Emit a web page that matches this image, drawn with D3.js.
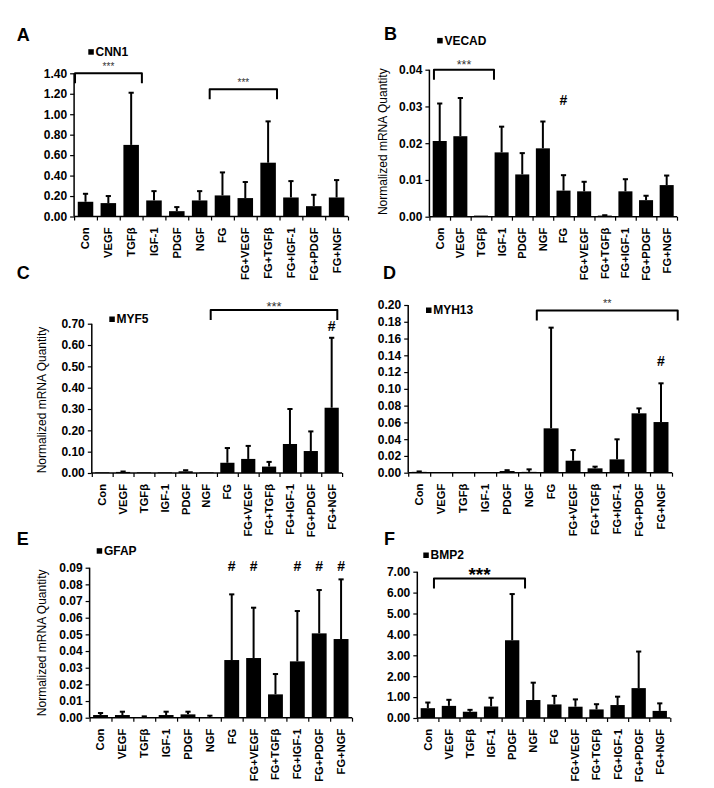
<!DOCTYPE html>
<html><head><meta charset="utf-8">
<script src="https://cdn.jsdelivr.net/npm/d3@7"></script>
<style>body{margin:0;background:#fff;} svg{display:block;font-family:"Liberation Sans",Arial,sans-serif;}</style>
</head><body><svg id="c" width="714" height="788"></svg>
<script>
// ---------- DATA ----------
const categories = ["Con","VEGF","TGFβ","IGF-1","PDGF","NGF","FG","FG+VEGF","FG+TGFβ","FG+IGF-1","FG+PDGF","FG+NGF"];

const cnn1Mean = [0.144,0.131,0.70,0.157,0.052,0.157,0.206,0.18,0.526,0.186,0.101,0.186];
const cnn1Sd   = [0.078,0.069,0.51,0.091,0.040,0.091,0.225,0.157,0.404,0.160,0.111,0.170];
const cnn1Ticks = [0,0.2,0.4,0.6,0.8,1.0,1.2,1.4];

const vecadMean = [0.0206,0.0219,0.0003,0.0175,0.0115,0.0186,0.0071,0.0069,0.0003,0.0069,0.0045,0.0086];
const vecadSd   = [0.0102,0.0104,0,0.0070,0.0058,0.0073,0.0042,0.0026,0.0001,0.0033,0.0012,0.0026];
const vecadTicks = [0,0.01,0.02,0.03,0.04];

const myf5Mean = [0.003,0.005,0.003,0.003,0.008,0.003,0.048,0.066,0.030,0.136,0.103,0.306];
const myf5Sd   = [0,0.002,0,0,0.005,0,0.069,0.061,0.022,0.164,0.092,0.328];
const myf5Ticks = [0,0.1,0.2,0.3,0.4,0.5,0.6,0.7];

const myh13Mean = [0.001,0,0,0,0.002,0.001,0.0529,0.0143,0.0052,0.0159,0.0708,0.0604];
const myh13Sd   = [0.0005,0,0,0,0.001,0.003,0.1201,0.0127,0.002,0.0239,0.0059,0.0462];
const myh13Ticks = [0,0.02,0.04,0.06,0.08,0.10,0.12,0.14,0.16,0.18,0.20];

const gfapMean = [0.0016,0.0016,0.0004,0.0016,0.002,0.0004,0.0346,0.0358,0.014,0.0338,0.0506,0.0472];
const gfapSd   = [0.0012,0.002,0.0004,0.002,0.0016,0.0008,0.0394,0.0302,0.0122,0.0302,0.026,0.0358];
const gfapTicks = [0,0.01,0.02,0.03,0.04,0.05,0.06,0.07,0.08,0.09];

const bmp2Mean = [0.47,0.58,0.30,0.55,3.72,0.86,0.65,0.54,0.41,0.62,1.43,0.34];
const bmp2Sd   = [0.27,0.29,0.09,0.42,2.21,0.83,0.41,0.35,0.25,0.40,1.75,0.36];
const bmp2Ticks = [0,1,2,3,4,5,6,7];

// significance annotations (category span, level in data units, label)
const cnn1Brackets = [{from:"Con",to:"TGFβ",level:1.40,label:"***"},{from:"FG",to:"FG+TGFβ",level:1.244,label:"***"}];
const vecadBrackets = [{from:"Con",to:"TGFβ",level:0.04,label:"***"}];
const myf5Brackets = [{from:"NGF",to:"FG+NGF",level:0.764,label:"***"}];
const myh13Brackets = [{from:"NGF",to:"FG+NGF",level:0.1935,label:"**"}];
const gfapBrackets = [];
const bmp2Brackets = [{from:"Con",to:"PDGF",level:6.68,label:"***"}];

const vecadHashes = [{cat:"FG",level:0.0305}];
const myf5Hashes = [{cat:"FG+NGF",level:0.666}];
const myh13Hashes = [{cat:"FG+NGF",level:0.127}];
const gfapHashes = ["FG","FG+VEGF","FG+IGF-1","FG+PDGF","FG+NGF"].map(c=>({cat:c,level:0.0883}));

// ---------- LAYOUT / STYLE ----------
const panels = [
 {letter:"A",gene:"CNN1",mean:cnn1Mean,sd:cnn1Sd,ticks:cnn1Ticks,brackets:cnn1Brackets,hashes:[],
  L:{x0:74.1,x1:348,yTop:73.3,yBot:216.5,lx:16.7,ly:40.7,gx:88.3,gy:56,title:null,
     bOff:[[0.04,0.97],[-0.06,0.89]],starFs:10,starDy:-3}},
 {letter:"B",gene:"VECAD",mean:vecadMean,sd:vecadSd,ticks:vecadTicks,brackets:vecadBrackets,hashes:vecadHashes,
  L:{x0:429.4,x1:677,yTop:69.7,yBot:216.7,lx:384,ly:40,gx:437.2,gy:44.7,title:[382.5,141.7],
     bOff:[[0.22,1.13]],starFs:12.5,starDy:-1}},
 {letter:"C",gene:"MYF5",mean:myf5Mean,sd:myf5Sd,ticks:myf5Ticks,brackets:myf5Brackets,hashes:myf5Hashes,
  L:{x0:91.8,x1:342.1,yTop:323.7,yBot:473,lx:16.7,ly:279,gx:109.3,gy:323.3,title:[41.7,400],
     bOff:[[0.70,0.77]],starFs:13,starDy:1}},
 {letter:"D",gene:"MYH13",mean:myh13Mean,sd:myh13Sd,ticks:myh13Ticks,brackets:myh13Brackets,hashes:myh13Hashes,
  L:{x0:408.2,x1:672,yTop:305,yBot:472.7,lx:383,ly:279.3,gx:426,gy:314.3,title:null,
     bOff:[[0.85,1.26]],starFs:11,starDy:-3}},
 {letter:"E",gene:"GFAP",mean:gfapMean,sd:gfapSd,ticks:gfapTicks,brackets:gfapBrackets,hashes:gfapHashes,
  L:{x0:89.6,x1:352,yTop:567.7,yBot:717.7,lx:16.7,ly:545,gx:96.7,gy:555,title:[41.3,642.8],
     bOff:[],starFs:10,starDy:-3}},
 {letter:"F",gene:"BMP2",mean:bmp2Mean,sd:bmp2Sd,ticks:bmp2Ticks,brackets:bmp2Brackets,hashes:[],
  L:{x0:417.3,x1:670.3,yTop:571.7,yBot:718,lx:384,ly:545,gx:423.3,gy:559.3,title:null,
     bOff:[[0.79,1.11]],starFs:19,starDy:3,starBold:true}}
];

const svg = d3.select("#c");

panels.forEach(p => {
  const L = p.L;
  const g = svg.append("g");
  const x = d3.scaleBand().domain(categories).range([L.x0, L.x1]).paddingInner(0.32).paddingOuter(0.16);
  const step = x.step();
  const slot = c => L.x0 + categories.indexOf(c) * step;
  const yMax = d3.max(p.ticks);
  const y = d3.scaleLinear().domain([0, yMax]).range([L.yBot, L.yTop]);

  // bars
  g.selectAll("rect.bar").data(categories).join("rect")
    .attr("x", c => x(c)).attr("width", x.bandwidth())
    .attr("y", (c,i) => y(p.mean[i])).attr("height", (c,i) => L.yBot - y(p.mean[i]))
    .attr("fill", "#000");

  // error bars (upper only)
  categories.forEach((c,i) => {
    if (!(p.sd[i] > 0)) return;
    const cx = x(c) + x.bandwidth()/2;
    const y1 = y(p.mean[i]), y2 = y(p.mean[i] + p.sd[i]);
    g.append("line").attr("x1",cx).attr("x2",cx).attr("y1",y1).attr("y2",y2)
      .attr("stroke","#000").attr("stroke-width",2);
    g.append("line").attr("x1",cx-2.6).attr("x2",cx+2.6).attr("y1",y2).attr("y2",y2)
      .attr("stroke","#000").attr("stroke-width",2);
  });

  // y axis
  const ya = g.append("g").attr("transform",`translate(${L.x0},0)`)
    .call(d3.axisLeft(y).tickValues(p.ticks).tickFormat(d3.format(".2f")).tickSize(4).tickPadding(3));
  ya.select(".domain").attr("stroke","#000").attr("stroke-width",1.5).attr("d",`M0,${L.yTop}V${L.yBot}`);
  ya.selectAll(".tick line").attr("stroke","#000").attr("stroke-width",1.2);
  ya.selectAll(".tick text").attr("font-size",12).attr("font-weight","bold").attr("fill","#000");

  // x axis with ticks at slot boundaries
  const xb = d3.scaleLinear().domain([0, categories.length]).range([L.x0, L.x1]);
  const xa = g.append("g").attr("transform",`translate(0,${L.yBot})`)
    .call(d3.axisBottom(xb).tickValues(d3.range(categories.length+1)).tickFormat("").tickSize(4));
  xa.select(".domain").attr("stroke","#000").attr("stroke-width",1.5).attr("d",`M${L.x0},0H${L.x1}`);
  xa.selectAll(".tick line").attr("stroke","#000").attr("stroke-width",1.2);

  // category labels
  g.selectAll("text.cat").data(categories).join("text")
    .attr("transform", c => `translate(${x(c)+x.bandwidth()/2},${L.yBot+11}) rotate(-90)`)
    .attr("text-anchor","end").attr("dy","0.35em")
    .attr("font-size",11.2).attr("font-weight","bold").attr("fill","#000")
    .text(c => c);

  // panel letter
  g.append("text").attr("x",L.lx).attr("y",L.ly).attr("font-size",18).attr("font-weight","bold").text(p.letter);

  // legend
  g.append("rect").attr("x",L.gx).attr("y",L.gy-6.8).attr("width",5.5).attr("height",5.5).attr("fill","#000");
  g.append("text").attr("x",L.gx+7.2).attr("y",L.gy).attr("font-size",12).attr("font-weight","bold").text(p.gene);

  // y title
  if (L.title) {
    g.append("text").attr("transform",`translate(${L.title[0]},${L.title[1]}) rotate(-90)`)
      .attr("text-anchor","middle").attr("dy","0.35em").attr("font-size",12).text("Normalized mRNA Quantity");
  }

  // brackets
  p.brackets.forEach((b,k) => {
    const off = L.bOff[k];
    const xa1 = slot(b.from) + off[0]*step, xa2 = slot(b.to) + off[1]*step;
    const yy = y(b.level);
    g.append("path").attr("d",`M${xa1},${yy+10}V${yy}H${xa2}V${yy+10}`)
      .attr("fill","none").attr("stroke","#000").attr("stroke-width",2).attr("stroke-linejoin","round");
    g.append("text").attr("x",(xa1+xa2)/2).attr("y",yy+L.starDy).attr("text-anchor","middle")
      .attr("font-size",L.starFs).attr("font-weight",L.starBold?"bold":"normal")
      .attr("fill",L.starBold?"#000":"#333").text(b.label);
  });

  // hash marks
  p.hashes.forEach(h => {
    g.append("text").attr("x",x(h.cat)+x.bandwidth()/2).attr("y",y(h.level)).attr("text-anchor","middle")
      .attr("font-size",14).attr("font-weight","bold").text("#");
  });
});
</script></body></html>
